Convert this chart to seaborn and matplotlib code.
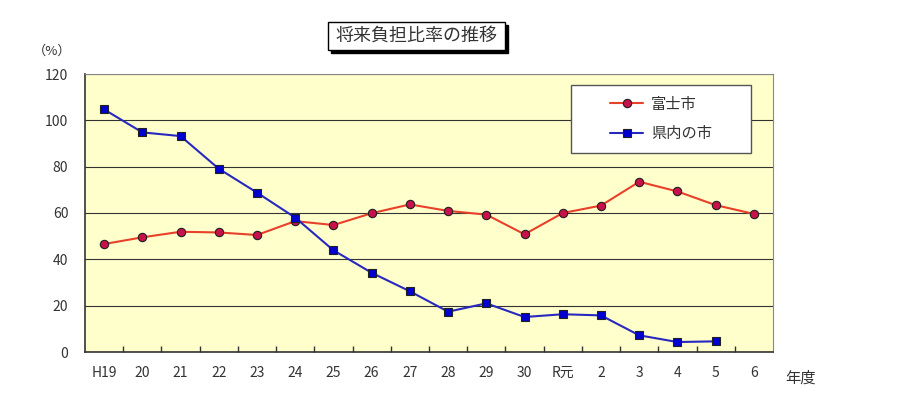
import matplotlib
matplotlib.use("Agg")
import matplotlib.pyplot as plt
from matplotlib.patches import Rectangle
import seaborn as sns
import pandas as pd
import numpy as np

years = ["H19", "20", "21", "22", "23", "24", "25", "26", "27", "28", "29", "30",
         "R元", "2", "3", "4", "5", "6"]
fuji = [46.6, 49.5, 51.9, 51.6, 50.5, 56.5, 54.8, 59.9, 63.7, 60.9, 59.3, 50.8,
        60.0, 63.2, 73.5, 69.3, 63.4, 59.6]
kennai = [104.7, 94.8, 93.2, 79.1, 68.8, 58.0, 43.9, 34.2, 26.2, 17.4, 21.0, 15.1,
          16.3, 15.8, 7.2, 4.3, 4.6, np.nan]
yticks = [0, 20, 40, 60, 80, 100, 120]
title = "将来負担比率の推移"
series_names = ["富士市", "県内の市"]

sns.set_theme(style="white")
plt.rcParams["font.family"] = ["Noto Sans CJK JP", "DejaVu Sans"]

df = pd.DataFrame({
    "year": years * 2,
    "value": fuji + kennai,
    "series": [series_names[0]] * len(years) + [series_names[1]] * len(years),
}).dropna()
df["x"] = df["year"].map({y: i for i, y in enumerate(years)})

W, H = 900, 420
ax_l, ax_r, ax_t, ax_b = 85, 773, 74, 352
fig = plt.figure(figsize=(9, 4.2), dpi=100)
ax = fig.add_axes([ax_l / W, 1 - ax_b / H, (ax_r - ax_l) / W, (ax_b - ax_t) / H])
ax.set_facecolor("#ffffcc")

styles = {
    series_names[0]: dict(color="#e8402a", marker="o", mfc="#c8104a"),
    series_names[1]: dict(color="#2828c0", marker="s", mfc="#0000d0"),
}
for name in series_names:
    st = styles[name]
    sns.lineplot(data=df[df["series"] == name], x="x", y="value", ax=ax,
                 color=st["color"], marker=st["marker"], markersize=6,
                 markerfacecolor=st["mfc"], markeredgecolor="#202020",
                 markeredgewidth=0.8, linewidth=1.5, label=name)

ax.set_xlim(-0.5, len(years) - 0.5)
ax.set_ylim(0, 120)
ax.set_yticks(yticks)
ax.set_yticklabels([str(v) for v in yticks])
ax.set_xticks(range(len(years)))
ax.set_xticklabels(years)
ax.set_xticks(np.arange(0.5, len(years) - 0.5, 1), minor=True)
ax.tick_params(axis="x", which="major", length=0, pad=10, labelsize=10, labelcolor="#333333")
ax.tick_params(axis="x", which="minor", length=4, direction="in", width=1, color="#333333", bottom=True)
ax.tick_params(axis="y", length=0, pad=12, labelsize=10, labelcolor="#333333")
ax.set_xlabel("")
ax.set_ylabel("")
ax.grid(axis="y", color="#333333", linewidth=0.8)
ax.set_axisbelow(True)
for side in ["left", "bottom"]:
    ax.spines[side].set_color("#333333")
    ax.spines[side].set_linewidth(1.2)
for side in ["top", "right"]:
    ax.spines[side].set_color("#888888")
    ax.spines[side].set_linewidth(0.8)

# legend: white framed box with centred entries
lx0, lx1, ly0, ly1 = 571, 751, 85, 153
aw, ah = ax_r - ax_l, ax_b - ax_t
ax.add_patch(Rectangle(((lx0 - ax_l) / aw, (ax_b - ly1) / ah), (lx1 - lx0) / aw, (ly1 - ly0) / ah,
                       transform=ax.transAxes, fc="white", ec="#555555", lw=1.0, zorder=5))
leg = ax.legend(loc="center", bbox_to_anchor=(((lx0 + lx1) / 2 - ax_l) / aw,
                                              (ax_b - (ly0 + ly1) / 2) / ah),
                frameon=False, fontsize=11, handlelength=2.2,
                labelspacing=0.85, borderpad=0.0, handletextpad=0.5)
leg.set_zorder(6)
for t in leg.get_texts():
    t.set_color("#333333")

# title box with drop shadow
bx0, bx1, by0, by1 = 328, 505, 22, 50
fig.patches.append(Rectangle(((bx0 + 3) / W, 1 - (by1 + 3) / H), (bx1 - bx0) / W, (by1 - by0) / H,
                             transform=fig.transFigure, fc="black", ec="black", zorder=1))
fig.patches.append(Rectangle((bx0 / W, 1 - by1 / H), (bx1 - bx0) / W, (by1 - by0) / H,
                             transform=fig.transFigure, fc="white", ec="black", lw=1, zorder=2))
fig.text((bx0 + bx1) / 2 / W, 1 - 36 / H, title, ha="center", va="center", fontsize=13,
         color="#333333", zorder=3)

fig.text(52 / W, 1 - 51 / H, "（%）", ha="center", va="center", fontsize=9.5, color="#333333")
fig.text(800 / W, 1 - 378 / H, "年度", ha="center", va="center", fontsize=11, color="#333333")

fig.savefig("out.png", dpi=100)
